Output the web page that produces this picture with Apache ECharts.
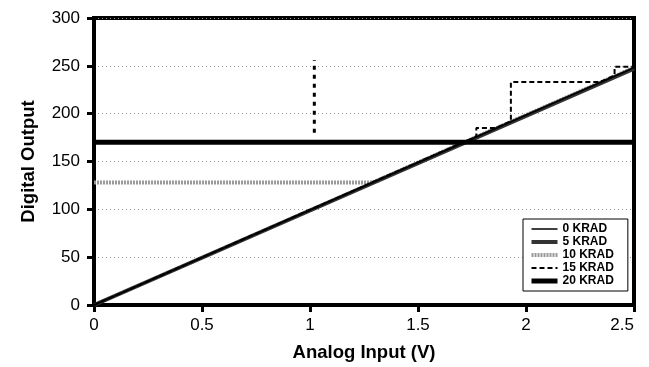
<!DOCTYPE html>
<html>
<head>
<meta charset="utf-8">
<script src="https://cdn.jsdelivr.net/npm/echarts@6/dist/echarts.min.js"></script>
<style>html,body{margin:0;padding:0;background:#fff;}#c{width:649px;height:367px;}</style>
</head>
<body>
<div id="c"></div>
<script>
const xTicks = [0, 0.5, 1, 1.5, 2, 2.5];
const yTicks = [0, 50, 100, 150, 200, 250, 300];
const seriesNames = ['0 KRAD', '5 KRAD', '10 KRAD', '15 KRAD', '20 KRAD'];
const krad0 = [[0, 0], [2.5, 248]];
const krad5 = [[0, 0], [2.5, 247]];
const krad10 = [[0, 128], [1.29, 128], [2.5, 248]];
const krad15 = [[0, 0], [1.77, 176], [1.77, 185], [1.86, 185], [1.93, 192], [1.93, 233], [2.34, 233], [2.41, 240], [2.41, 249], [2.5, 249]];
const krad15Glitch = [[1.02, 180], [1.02, 256]];
const krad20 = [[0, 170], [2.5, 170]];

const chart = echarts.init(document.getElementById('c'), null, {renderer: 'canvas'});
const font = 'Liberation Sans, Arial, Helvetica, sans-serif';
const styles = {
  '0 KRAD':  {color: '#000', width: 1.5, type: 'solid'},
  '5 KRAD':  {color: '#333', width: 4, type: 'solid'},
  '10 KRAD': {color: '#999', width: 4, type: [2, 1]},
  '15 KRAD': {color: '#000', width: 2, type: [5, 3]},
  '20 KRAD': {color: '#000', width: 5, type: 'solid'}
};
function ser(name, data, z, override) {
  const ls = Object.assign({}, styles[name], override || {}, {cap: 'butt'});
  return {name: name, type: 'line', data: data, symbol: 'none', showSymbol: false,
    lineStyle: ls, itemStyle: {color: ls.color},
    z: z, silent: true, animation: false};
}
chart.setOption({
  animation: false,
  backgroundColor: '#fff',
  grid: {left: 94, right: 15, top: 18, bottom: 62, show: true, borderColor: '#000', borderWidth: 4},
  legend: {
    data: seriesNames.map(n => ({name: n, itemStyle: {color: 'transparent', borderWidth: 0, opacity: 0},
      lineStyle: {color: styles[n].color, width: styles[n].width, type: styles[n].type}})),
    orient: 'vertical', left: 523, top: 219,
    backgroundColor: '#fff', borderColor: '#000', borderWidth: 1, borderRadius: 0,
    padding: [4, 14, 4, 6], itemGap: 1, itemWidth: 26, itemHeight: 10,
    textStyle: {fontFamily: font, fontSize: 12, fontWeight: 'bold', color: '#000', lineHeight: 12}
  },
  xAxis: {
    type: 'value', min: 0, max: 2.5, interval: 0.5,
    name: 'Analog Input (V)', nameLocation: 'middle', nameGap: 38,
    nameTextStyle: {fontFamily: font, fontSize: 18.5, fontWeight: 'bold', color: '#000'},
    axisLine: {show: true, lineStyle: {color: '#000', width: 4}},
    axisTick: {show: true, inside: false, length: 7, lineStyle: {color: '#000', width: 3}},
    axisLabel: {fontFamily: font, fontSize: 17, color: '#000', margin: 12, alignMaxLabel: 'right',
      formatter: v => String(v)},
    splitLine: {show: false}
  },
  yAxis: {
    type: 'value', min: 0, max: 300, interval: 50,
    name: 'Digital Output', nameLocation: 'middle', nameGap: 56, nameRotate: 90,
    nameTextStyle: {fontFamily: font, fontSize: 18.5, fontWeight: 'bold', color: '#000'},
    axisLine: {show: true, lineStyle: {color: '#000', width: 4}},
    axisTick: {show: true, inside: false, length: 7, lineStyle: {color: '#000', width: 3}},
    axisLabel: {fontFamily: font, fontSize: 17, color: '#000', margin: 14},
    splitLine: {show: true, lineStyle: {color: '#999', width: 1, type: [1, 3]}}
  },
  series: [
    ser('10 KRAD', krad10, 2),
    ser('5 KRAD', krad5, 3),
    ser('0 KRAD', krad0, 4),
    ser('15 KRAD', krad15, 5),
    ser('15 KRAD', krad15Glitch, 5, {width: 3, type: [4, 5]}),
    ser('20 KRAD', krad20, 6)
  ]
});
</script>
</body>
</html>
